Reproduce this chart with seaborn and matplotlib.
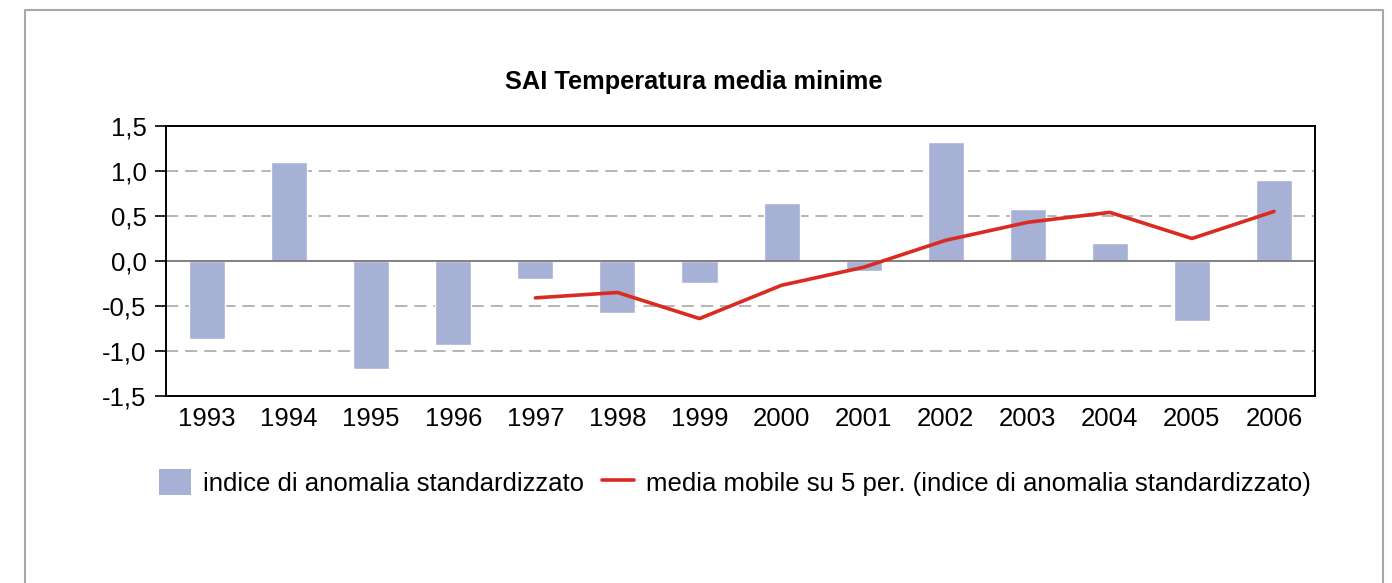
import numpy as np
import pandas as pd
import matplotlib
matplotlib.use('Agg')
import matplotlib.pyplot as plt
from matplotlib.lines import Line2D
from matplotlib.patches import Patch
import seaborn as sns

# data
years = ['1993', '1994', '1995', '1996', '1997', '1998', '1999',
         '2000', '2001', '2002', '2003', '2004', '2005', '2006']
sai = [-0.87, 1.10, -1.20, -0.93, -0.20, -0.58, -0.24,
       0.64, -0.11, 1.32, 0.58, 0.20, -0.67, 0.90]
ma_years = ['1997', '1998', '1999', '2000', '2001',
            '2002', '2003', '2004', '2005', '2006']
ma_values = [-0.41, -0.35, -0.64, -0.27, -0.07, 0.23, 0.43, 0.54, 0.25, 0.55]

yticks = [-1.5, -1.0, -0.5, 0.0, 0.5, 1.0, 1.5]

bar_color = '#A7B1D5'
line_color = '#D92B22'

sns.set_style('white')
plt.rcParams['font.family'] = ['Liberation Sans', 'DejaVu Sans']
plt.rcParams['text.color'] = 'black'
plt.rcParams['xtick.color'] = 'black'
plt.rcParams['ytick.color'] = 'black'

df = pd.DataFrame({'year': years, 'sai': sai})
df_ma = pd.DataFrame({'pos': [years.index(y) for y in ma_years], 'ma': ma_values})

fig = plt.figure(figsize=(13.92, 5.83), dpi=100)
ax = fig.add_axes([0.1193, 0.3208, 0.8254, 0.4631])

sns.barplot(data=df, x='year', y='sai', color=bar_color, saturation=1,
            width=0.44, ax=ax, zorder=2)
sns.lineplot(data=df_ma, x='pos', y='ma', color=line_color, linewidth=2.6,
             ax=ax, zorder=3)

ax.set_xlim(-0.5, len(years) - 0.5)
ax.set_ylim(-1.5, 1.5)
ax.set_yticks(yticks)
ax.set_yticklabels([f'{v:.1f}'.replace('.', ',') for v in yticks])
ax.set_xlabel('')
ax.set_ylabel('')

# grid: dashed lines, solid zero line
for v in [-1.0, -0.5, 0.5, 1.0]:
    ax.axhline(v, color='#A0A0A0', linestyle=(0, (8, 4.5)), linewidth=1.1, zorder=1)
ax.axhline(0, color='#808080', linewidth=1.4, zorder=2.5)

for s in ax.spines.values():
    s.set_visible(True)
    s.set_color('black')
    s.set_linewidth(1.4)

ax.tick_params(axis='y', which='major', direction='out', length=8, width=1.2,
               color='black', labelsize=18.5, pad=6, left=True)
ax.tick_params(axis='x', length=0, labelsize=18.5, pad=8)

fig.text(0.4985, 0.860, 'SAI Temperatura media minime', ha='center', va='center',
         fontsize=18.3, fontweight='bold')

handles = [Patch(facecolor=bar_color, edgecolor='none'),
           Line2D([0], [0], color=line_color, linewidth=2.6)]
labels = ['indice di anomalia standardizzato',
          'media mobile su 5 per. (indice di anomalia standardizzato)']
fig.legend(handles, labels, loc='center', bbox_to_anchor=(0.528, 0.172),
           ncol=2, frameon=False, fontsize=18.5, handlelength=1.25,
           handleheight=1.15, handletextpad=0.45, columnspacing=0.7)

# outer grey frame (open at the bottom)
W, H = 1392, 583
x0, x1, y0 = 25 / W, 1383 / W, 1 - 10 / H
for xs, ys in [([x0, x0], [0, y0]), ([x0, x1], [y0, y0]), ([x1, x1], [y0, 0])]:
    fig.add_artist(Line2D(xs, ys, color='#A8A8A8', linewidth=1.5,
                          transform=fig.transFigure))

fig.savefig('out.png', dpi=100)
